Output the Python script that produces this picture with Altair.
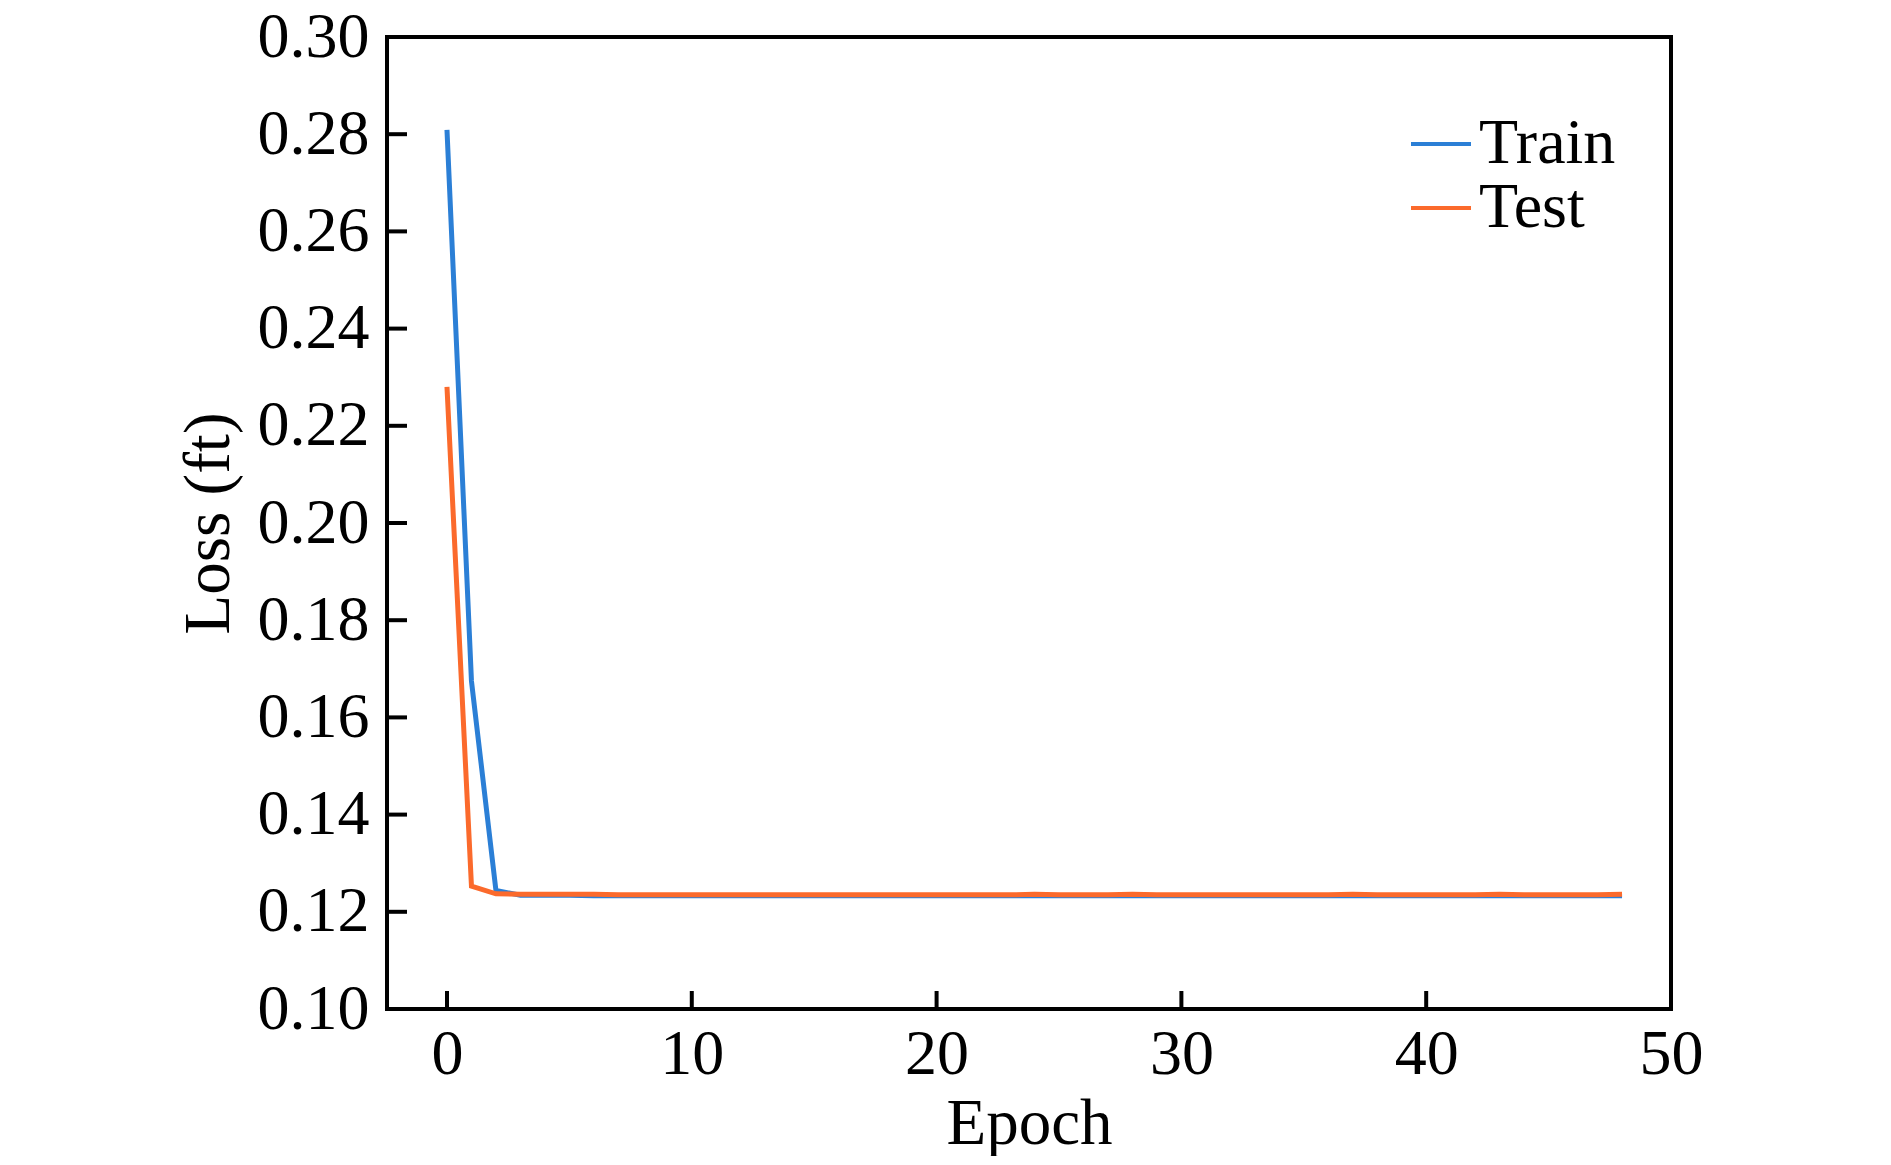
import altair as alt
import pandas as pd

# ---- data ----
epochs = list(range(49))
train_loss = [0.2809, 0.1675, 0.1244, 0.1234, 0.1234, 0.1234, 0.1233, 0.1233, 0.1233, 0.1233,
              0.1233, 0.1233, 0.1233, 0.1233, 0.1233, 0.1233, 0.1233, 0.1233, 0.1233, 0.1233,
              0.1233, 0.1233, 0.1233, 0.1233, 0.1233, 0.1233, 0.1233, 0.1233, 0.1233, 0.1233,
              0.1233, 0.1233, 0.1233, 0.1233, 0.1233, 0.1233, 0.1233, 0.1233, 0.1233, 0.1233,
              0.1233, 0.1233, 0.1233, 0.1233, 0.1233, 0.1233, 0.1233, 0.1233, 0.1233]
test_loss = [0.2280, 0.1253, 0.1237, 0.1236, 0.1236, 0.1236, 0.1236, 0.1235, 0.1235, 0.1235,
             0.1235, 0.1235, 0.1235, 0.1235, 0.1235, 0.1235, 0.1235, 0.1235, 0.1235, 0.1235,
             0.1235, 0.1235, 0.1235, 0.1235, 0.1236, 0.1235, 0.1235, 0.1235, 0.1236, 0.1235,
             0.1235, 0.1235, 0.1235, 0.1235, 0.1235, 0.1235, 0.1235, 0.1236, 0.1235, 0.1235,
             0.1235, 0.1235, 0.1235, 0.1236, 0.1235, 0.1235, 0.1235, 0.1235, 0.1236]
series_names = ["Train", "Test"]
series_colors = ["#2b7fd6", "#fb6a2c"]
x_ticks = [0, 10, 20, 30, 40, 50]
y_ticks = [0.10, 0.12, 0.14, 0.16, 0.18, 0.20, 0.22, 0.24, 0.26, 0.28, 0.30]

rows = []
for e, t in zip(epochs, train_loss):
    rows.append({"Epoch": e, "Loss": t, "Series": "Train"})
for e, t in zip(epochs, test_loss):
    rows.append({"Epoch": e, "Loss": t, "Series": "Test"})
df = pd.DataFrame(rows)

xt = pd.DataFrame({"Epoch": x_ticks[:-1]})
yt = pd.DataFrame({"Loss": y_ticks[1:-1]})

FONT = "Liberation Serif"
W, H = 1284, 972

xscale = alt.Scale(domain=[-2.45, 50], nice=False, zero=False)
yscale = alt.Scale(domain=[0.10, 0.30], nice=False, zero=False)
x_axis = alt.Axis(title="Epoch", values=x_ticks, ticks=False, domain=False, grid=False,
                  labelFont=FONT, labelFontSize=64, labelColor="black", labelPadding=13,
                  titleFont=FONT, titleFontSize=65, titleFontWeight="normal", titleColor="black",
                  titlePadding=6, labelFlush=False)
y_axis = alt.Axis(title="Loss (ft)", values=y_ticks, format=".2f", ticks=False, domain=False,
                  grid=False, labelFont=FONT, labelFontSize=64, labelColor="black",
                  labelPadding=18, titleFont=FONT, titleFontSize=65, titleFontWeight="normal",
                  titleColor="black", titlePadding=15, labelFlush=False)

lines = alt.Chart(df).mark_line(strokeWidth=5).encode(
    x=alt.X("Epoch:Q", scale=xscale, axis=x_axis),
    y=alt.Y("Loss:Q", scale=yscale, axis=y_axis),
    color=alt.Color("Series:N", scale=alt.Scale(domain=series_names, range=series_colors),
                    sort=series_names,
                    legend=alt.Legend(title=None, orient="none", legendX=1022, legendY=75,
                                      symbolType="stroke", symbolSize=3600, symbolStrokeWidth=4,
                                      labelFont=FONT, labelFontSize=64, labelColor="black",
                                      labelOffset=6, rowPadding=-2)),
    order=alt.Order("Series:N", sort="descending"),
)

yticks = alt.Chart(yt).mark_rule(color="black", strokeWidth=4).encode(
    y=alt.Y("Loss:Q", scale=yscale, axis=y_axis),
    x=alt.value(0), x2=alt.value(20),
)
xticks = alt.Chart(xt).mark_rule(color="black", strokeWidth=4).encode(
    x=alt.X("Epoch:Q", scale=xscale, axis=x_axis),
    y=alt.value(H), y2=alt.value(H - 18),
)

chart = alt.layer(lines, yticks, xticks).properties(
    width=W, height=H,
    autosize=alt.AutoSizeParams(type="none"),
    padding={"left": 379, "top": 29, "right": 200, "bottom": 147},
).configure(background="white").configure_view(stroke="black", strokeWidth=4)

chart.save("out.html", embed_options={"renderer": "svg", "actions": False})
